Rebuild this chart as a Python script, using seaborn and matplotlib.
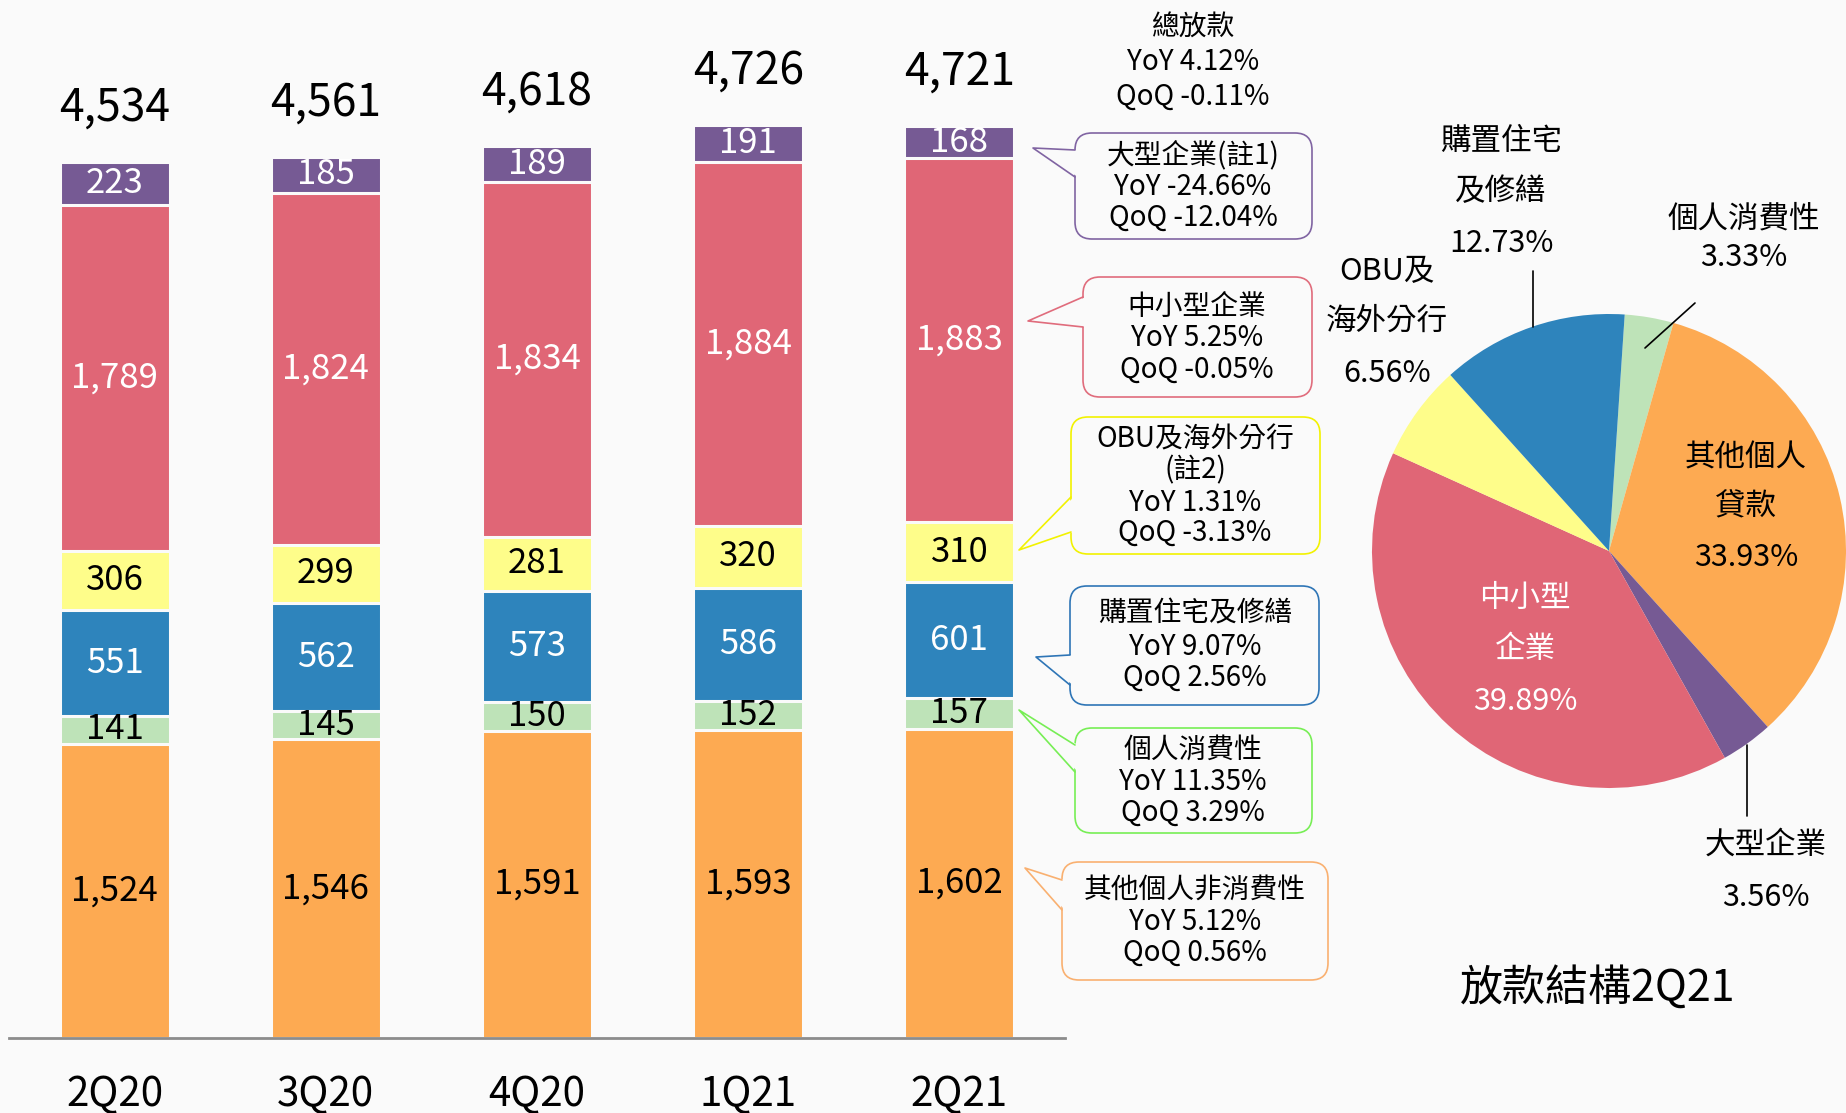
import matplotlib
matplotlib.use("Agg")
import matplotlib.pyplot as plt
import seaborn as sns
import numpy as np
from matplotlib.patches import FancyBboxPatch, Polygon

# ---------------- data ----------------
quarters = ["2Q20", "3Q20", "4Q20", "1Q21", "2Q21"]
other_personal = [1524, 1546, 1591, 1593, 1602]   # 其他個人非消費性
consumer = [141, 145, 150, 152, 157]              # 個人消費性
mortgage = [551, 562, 573, 586, 601]              # 購置住宅及修繕
obu = [306, 299, 281, 320, 310]                   # OBU及海外分行
sme = [1789, 1824, 1834, 1884, 1883]              # 中小型企業
large = [223, 185, 189, 191, 168]                 # 大型企業
totals = [4534, 4561, 4618, 4726, 4721]

# pie (clockwise from top)
pie_names = ["個人消費性", "其他個人貸款", "大型企業", "中小型企業", "OBU及海外分行", "購置住宅及修繕"]
pie_values = [3.33, 33.93, 3.56, 39.89, 6.56, 12.73]

callout_lines = [
    ["總放款", "YoY 4.12%", "QoQ -0.11%"],
    ["大型企業(註1)", "YoY -24.66%", "QoQ -12.04%"],
    ["中小型企業", "YoY 5.25%", "QoQ -0.05%"],
    ["OBU及海外分行", "(註2)", "YoY 1.31%", "QoQ -3.13%"],
    ["購置住宅及修繕", "YoY 9.07%", "QoQ 2.56%"],
    ["個人消費性", "YoY 11.35%", "QoQ 3.29%"],
    ["其他個人非消費性", "YoY 5.12%", "QoQ 0.56%"],
]

# ---------------- style ----------------
BG = "#FAFAFA"
C_ORANGE = "#FDAA52"
C_GREEN = "#BEE3B8"
C_BLUE = "#2E84BC"
C_YELLOW = "#FEFD8A"
C_RED = "#E06676"
C_PURPLE = "#765A94"

sns.set_theme(style="white")
plt.rcParams["font.family"] = ["Noto Sans CJK TC", "DejaVu Sans"]

W, H = 1846, 1113
fig = plt.figure(figsize=(W / 100, H / 100), dpi=100, facecolor=BG)

# ---------------- stacked bars ----------------
ax = fig.add_axes([9 / W, (H - 1038) / H, 1056 / W, 1038 / H])
ax.set_facecolor("none")

layers = [
    (other_personal, C_ORANGE, "black"),
    (consumer, C_GREEN, "black"),
    (mortgage, C_BLUE, "white"),
    (obu, C_YELLOW, "black"),
    (sme, C_RED, "white"),
    (large, C_PURPLE, "white"),
]
arr = np.array([l[0] for l in layers], dtype=float)
cum = arr.cumsum(axis=0)

# draw from top cumulative downward so each lower layer covers the one above
for k in range(len(layers) - 1, -1, -1):
    sns.barplot(x=quarters, y=cum[k], color=layers[k][1], saturation=1,
                width=0.52, edgecolor=BG, linewidth=2.2, errorbar=None, ax=ax)

for k, (vals, col, tcol) in enumerate(layers):
    bottoms = cum[k] - arr[k]
    for i, v in enumerate(vals):
        ax.text(i, bottoms[i] + v / 2, f"{v:,}", ha="center", va="center",
                fontsize=25, color=tcol)

for i, t in enumerate(totals):
    ax.annotate(f"{t:,}", xy=(i, t), xytext=(0, 39), textcoords="offset points",
                ha="center", va="center", fontsize=32, color="black")

ax.set_xlim(-0.5, 4.5)
ax.set_ylim(0, 5373)
ax.set_yticks([])
ax.set_xlabel("")
ax.set_ylabel("")
for s in ["left", "right", "top"]:
    ax.spines[s].set_visible(False)
ax.spines["bottom"].set_color("#8C8C8C")
ax.spines["bottom"].set_linewidth(2)
ax.tick_params(axis="x", length=0, pad=26, labelsize=29, labelcolor="black")

# ---------------- pie ----------------
cx, cy, R = 1609, 551, 237
ax2 = fig.add_axes([(cx - R) / W, (H - cy - R) / H, 2 * R / W, 2 * R / H])
ax2.pie(pie_values, colors=[C_GREEN, C_ORANGE, C_PURPLE, C_RED, C_YELLOW, C_BLUE],
        startangle=86.2, counterclock=False, wedgeprops=dict(linewidth=0))
ax2.set_xlim(-1, 1)
ax2.set_ylim(-1, 1)

# ---------------- overlay (pixel coordinates) ----------------
ov = fig.add_axes([0, 0, 1, 1])
ov.set_xlim(0, W)
ov.set_ylim(H, 0)
ov.axis("off")
ov.patch.set_alpha(0)

# total text
for txt, y in zip(callout_lines[0], [28, 62, 97]):
    ov.text(1193, y, txt, ha="center", va="center", fontsize=20, color="black")

boxes = [
    # (x0, y0, x1, y1, color, text_x, ys, tip, base_y1, base_y2)
    (1075, 133, 1312, 239, "#8064A2", 1193, [155, 187, 218], (1033, 148), 150, 177),
    (1083, 277, 1312, 397, "#E06C7C", 1197, [307, 338, 370], (1028, 321), 297, 327),
    (1071, 417, 1320, 554, "#F2F200", 1195, [440, 470, 503, 533], (1019, 550), 497, 532),
    (1070, 586, 1319, 705, "#2E75B6", 1195, [613, 647, 678], (1036, 657), 655, 685),
    (1075, 728, 1312, 833, "#77EE55", 1193, [750, 782, 813], (1019, 710), 745, 772),
    (1062, 862, 1328, 980, "#F9B070", 1195, [890, 922, 953], (1025, 868), 880, 910),
]
for (x0, y0, x1, y1, col, tx, ys, tip, b1, b2), lines in zip(boxes, callout_lines[1:]):
    box = FancyBboxPatch((x0, y0), x1 - x0, y1 - y0,
                         boxstyle="round,pad=0,rounding_size=17",
                         facecolor=BG, edgecolor=col, linewidth=1.2, zorder=2)
    ov.add_patch(box)
    ov.add_patch(Polygon([(x0 + 3, b1), tip, (x0 + 3, b2)], closed=True,
                         facecolor=BG, edgecolor="none", zorder=3))
    ov.plot([x0, tip[0], x0], [b1, tip[1], b2], color=col, lw=1.2, zorder=4)
    for txt, y in zip(lines, ys):
        ov.text(tx, y, txt, ha="center", va="center", fontsize=20, color="black", zorder=5)

# pie labels
pie_text = [
    (1501, [141, 192, 244], ["購置住宅", "及修繕", "12.73%"], "black"),
    (1744, [219, 257], ["個人消費性", "3.33%"], "black"),
    (1387, [272, 321, 374], ["OBU及", "海外分行", "6.56%"], "black"),
    (1746, [458, 507, 558], ["其他個人", "貸款", "33.93%"], "black"),
    (1525, [598, 649, 702], ["中小型", "企業", "39.89%"], "white"),
    (1766, [845, 897], ["大型企業", "3.56%"], "black"),
]
for x, ys, lines, col in pie_text:
    for txt, y in zip(lines, ys):
        ov.text(x, y, txt, ha="center", va="center", fontsize=22, color=col)

ov.plot([1533, 1533], [271, 327], color="black", lw=1.2)
ov.plot([1695, 1645], [303, 348], color="black", lw=1.2)
ov.plot([1747, 1747], [745, 816], color="black", lw=1.2)

ov.text(1598, 989, "放款結構2Q21", ha="center", va="center", fontsize=31, color="black")

fig.savefig("out.png", dpi=100, facecolor=BG)
